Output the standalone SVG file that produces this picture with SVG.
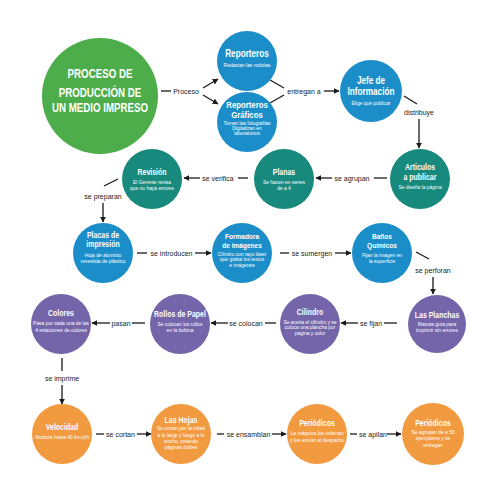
<svg xmlns="http://www.w3.org/2000/svg" width="495" height="495" viewBox="0 0 495 495">
<style>
.bg{fill:#ffffff}
.green{fill:#4cad4a}
.blue{fill:#1b8dc9}
.teal{fill:#178a7d}
.purple{fill:#7464aa}
.orange{fill:#f29a40}
text{font-family:"Liberation Sans",Arial,sans-serif;text-anchor:middle;fill:#ffffff}
.main{font-size:12.5px;font-weight:bold}
.t{font-size:8.5px;font-weight:bold}
.t2{font-size:8px;font-weight:bold}
.tb{font-size:10px;font-weight:bold}
.tg{font-size:9.5px;font-weight:bold}
.d{font-size:5.6px}
.lbl{font-size:7px;fill:#1a1a1a}
.ln{stroke:#1a1a1a;stroke-width:1.3;fill:none}
.ar{stroke:#1a1a1a;stroke-width:1.3;fill:none;marker-end:url(#ah)}
</style>
<defs>
<marker id="ah" viewBox="0 0 10 10" refX="9" refY="5" markerWidth="6" markerHeight="6" markerUnits="userSpaceOnUse" orient="auto">
<path d="M0,0 L10,5 L0,10 z" fill="#1a1a1a"/>
</marker>
</defs>
<rect class="bg" x="0" y="0" width="495" height="495"/>

<g id="connectors">
<line class="ln" x1="161" y1="91" x2="171" y2="91"/>
<text class="lbl" x="186" y="93.5">Proceso</text>
<line class="ar" x1="203" y1="88" x2="218" y2="79"/>
<line class="ar" x1="203" y1="95" x2="218" y2="104"/>

<line class="ln" x1="270" y1="80" x2="284" y2="88"/>
<line class="ln" x1="270" y1="103" x2="284" y2="95"/>
<text class="lbl" x="304" y="94">entregan a</text>
<line class="ar" x1="324" y1="91" x2="339" y2="91"/>

<line class="ln" x1="404" y1="96" x2="417" y2="104"/>
<text class="lbl" x="419" y="114.5">distribuye</text>
<line class="ar" x1="419" y1="119" x2="419" y2="148"/>

<line class="ln" x1="387" y1="178" x2="374" y2="178"/>
<text class="lbl" x="352" y="180.5">se agrupan</text>
<line class="ar" x1="332" y1="178" x2="316" y2="178"/>

<line class="ln" x1="248" y1="178" x2="238" y2="178"/>
<text class="lbl" x="218" y="180.5">se verifica</text>
<line class="ar" x1="200" y1="178" x2="184" y2="178"/>

<line class="ln" x1="118" y1="179" x2="104" y2="186"/>
<text class="lbl" x="103" y="198.5">se preparan</text>
<line class="ar" x1="103" y1="203" x2="103" y2="222"/>

<line class="ln" x1="137" y1="253" x2="147" y2="253"/>
<text class="lbl" x="171.5" y="255.5">se introducen</text>
<line class="ar" x1="195" y1="253" x2="211" y2="253"/>

<line class="ln" x1="280" y1="253" x2="289" y2="253"/>
<text class="lbl" x="312" y="255.5">se sumergen</text>
<line class="ar" x1="335" y1="253" x2="351" y2="253"/>

<line class="ln" x1="416" y1="252" x2="429" y2="259"/>
<text class="lbl" x="433" y="272.5">se perforan</text>
<line class="ar" x1="433" y1="277" x2="433" y2="294"/>

<line class="ln" x1="397" y1="323" x2="384" y2="323"/>
<text class="lbl" x="371" y="325.5">se fijan</text>
<line class="ar" x1="358" y1="323" x2="341" y2="323"/>

<line class="ln" x1="276" y1="323" x2="265" y2="323"/>
<text class="lbl" x="246" y="325.5">se colocan</text>
<line class="ar" x1="228" y1="323" x2="211" y2="323"/>

<line class="ln" x1="145" y1="323" x2="132" y2="323"/>
<text class="lbl" x="121" y="325.5">pasan</text>
<line class="ar" x1="110" y1="323" x2="92" y2="323"/>

<line class="ln" x1="62" y1="358" x2="62" y2="371"/>
<text class="lbl" x="62" y="380.5">se imprime</text>
<line class="ar" x1="62" y1="385" x2="62" y2="404"/>

<line class="ln" x1="96" y1="434" x2="104" y2="434"/>
<text class="lbl" x="120.5" y="437">se cortan</text>
<line class="ar" x1="137" y1="434" x2="151" y2="434"/>

<line class="ln" x1="217" y1="434" x2="224" y2="434"/>
<text class="lbl" x="248.5" y="437">se ensamblan</text>
<line class="ar" x1="272" y1="434" x2="286" y2="434"/>

<line class="ln" x1="350" y1="434" x2="357" y2="434"/>
<text class="lbl" x="373" y="437">se apilan</text>
<line class="ar" x1="387" y1="434" x2="401" y2="434"/>
</g>

<g id="n-proceso" transform="translate(100,96)">
<circle class="green" r="58"/>
<g transform="scale(0.78,1)">
<text class="main" y="-18.5">PROCESO DE</text>
<text class="main" y="0.5">PRODUCCIÓN DE</text>
<text class="main" y="16.5">UN MEDIO IMPRESO</text>
</g>
</g>

<g id="n-reporteros" transform="translate(247,61)">
<circle class="blue" r="30"/>
<g transform="scale(0.82,1)"><text class="tb" y="-4">Reporteros</text></g>
<g transform="scale(0.88,1)"><text class="d" y="6">Redactan las noticias</text></g>
</g>

<g id="n-graficos" transform="translate(247,122)">
<circle class="blue" r="30"/>
<g transform="scale(0.82,1)"><text class="tg" y="-14.5">Reporteros</text><text class="tg" y="-4.5">Gráficos</text></g>
<g transform="scale(0.88,1)"><text class="d" y="2.5">Toman las fotografías</text><text class="d" y="8">Digitalizan en</text><text class="d" y="13.5">laboratorios</text></g>
</g>

<g id="n-jefe" transform="translate(371,91)">
<circle class="blue" r="31"/>
<g transform="scale(0.82,1)"><text class="tb" y="-7.5">Jefe de</text><text class="tb" y="3.5">Información</text></g>
<g transform="scale(0.88,1)"><text class="d" y="14">Elige qué publicar</text></g>
</g>

<g id="n-articulos" transform="translate(420,179)">
<circle class="teal" r="30"/>
<g transform="scale(0.82,1)"><text class="t" y="-9">Articulos</text><text class="t" y="1">a publicar</text></g>
<g transform="scale(0.88,1)"><text class="d" y="10">Se diseña la página</text></g>
</g>

<g id="n-planas" transform="translate(284,179)">
<circle class="teal" r="30"/>
<g transform="scale(0.82,1)"><text class="t" y="-4">Planas</text></g>
<g transform="scale(0.88,1)"><text class="d" y="5.5">Se hacen en series</text><text class="d" y="11.5">de a 4</text></g>
</g>

<g id="n-revision" transform="translate(152,179)">
<circle class="teal" r="30"/>
<g transform="scale(0.82,1)"><text class="t" y="-4">Revisión</text></g>
<g transform="scale(0.88,1)"><text class="d" y="5">El Gerente revisa</text><text class="d" y="11.5">que no haya errores</text></g>
</g>

<g id="n-placas" transform="translate(103,253)">
<circle class="blue" r="30"/>
<g transform="scale(0.82,1)"><text class="t" y="-15">Placas de</text><text class="t" y="-6">impresión</text></g>
<g transform="scale(0.88,1)"><text class="d" y="4">Hoja de aluminio</text><text class="d" y="10.5">revestida de plástico</text></g>
</g>

<g id="n-formadora" transform="translate(242,253)">
<circle class="blue" r="30"/>
<g transform="scale(0.82,1)"><text class="t2" y="-14.5">Formadora</text><text class="t2" y="-5">de imágenes</text></g>
<g transform="scale(0.88,1)"><text class="d" y="3">Cilindro con rayo láser</text><text class="d" y="8.5">que graba los textos</text><text class="d" y="14">e imágenes</text></g>
</g>

<g id="n-banos" transform="translate(382,253)">
<circle class="blue" r="30"/>
<g transform="scale(0.82,1)"><text class="t2" y="-14.5">Baños</text><text class="t2" y="-5">Químicos</text></g>
<g transform="scale(0.88,1)"><text class="d" y="4">Fijan la imagen en</text><text class="d" y="10">la superficie</text></g>
</g>

<g id="n-planchas" transform="translate(437,324)">
<circle class="purple" r="29"/>
<g transform="scale(0.82,1)"><text class="t" y="-6">Las Planchas</text></g>
<g transform="scale(0.88,1)"><text class="d" y="2">Marcas guía para</text><text class="d" y="8.5">imprimir sin errores</text></g>
</g>

<g id="n-cilindro" transform="translate(310,324)">
<circle class="purple" r="30"/>
<g transform="scale(0.82,1)"><text class="t" y="-9">Cilindro</text></g>
<g transform="scale(0.88,1)"><text class="d" y="-0.5">Se aceita el cilindro y se</text><text class="d" y="5.5">coloca una plancha por</text><text class="d" y="11.5">página y color</text></g>
</g>

<g id="n-rollos" transform="translate(180,324)">
<circle class="purple" r="30"/>
<g transform="scale(0.82,1)"><text class="t" y="-7">Rollos de Papel</text></g>
<g transform="scale(0.88,1)"><text class="d" y="2">Se colocan los rollos</text><text class="d" y="8.5">en la bobina</text></g>
</g>

<g id="n-colores" transform="translate(61,324)">
<circle class="purple" r="30"/>
<g transform="scale(0.82,1)"><text class="t" y="-8">Colores</text></g>
<g transform="scale(0.88,1)"><text class="d" y="1">Pasa por cada una de las</text><text class="d" y="8">4 estaciones de colores</text></g>
</g>

<g id="n-velocidad" transform="translate(62,434)">
<circle class="orange" r="30"/>
<g transform="scale(0.82,1)"><text class="t" y="-4">Velocidad</text></g>
<g transform="scale(0.88,1)"><text class="d" y="5">Alcanza hasta 40 km p/h</text></g>
</g>

<g id="n-hojas" transform="translate(181,434)">
<circle class="orange" r="30"/>
<g transform="scale(0.82,1)"><text class="t" y="-11">Las Hojas</text></g>
<g transform="scale(0.88,1)"><text class="d" y="-4">Se cortan por la mitad</text><text class="d" y="2.5">a lo largo y luego a lo</text><text class="d" y="9">ancho, creando</text><text class="d" y="15.5">páginas dobles</text></g>
</g>

<g id="n-periodicos1" transform="translate(317,434)">
<circle class="orange" r="30"/>
<g transform="scale(0.82,1)"><text class="t" y="-8">Periódicos</text></g>
<g transform="scale(0.88,1)"><text class="d" y="1">La máquina los ordenan</text><text class="d" y="8">y los envían al despacho</text></g>
</g>

<g id="n-periodicos2" transform="translate(433,434)">
<circle class="orange" r="31"/>
<g transform="scale(0.82,1)"><text class="t" y="-8">Periódicos</text></g>
<g transform="scale(0.88,1)"><text class="d" y="0">Se agrupan de a 50</text><text class="d" y="6.5">ejemplares y se</text><text class="d" y="13">entregan</text></g>
</g>
</svg>
